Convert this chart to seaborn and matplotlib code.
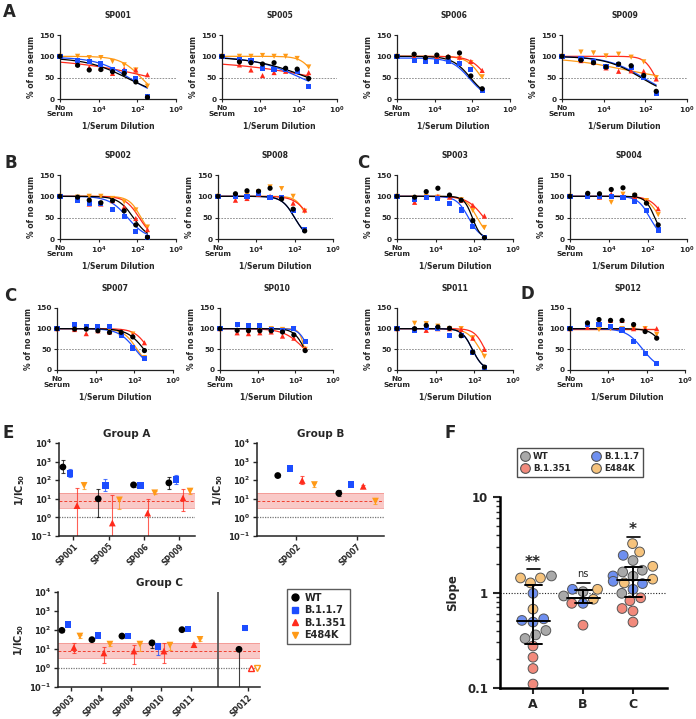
import numpy as np
import pandas as pd
import matplotlib
matplotlib.use('Agg')
import matplotlib.pyplot as plt
from matplotlib.lines import Line2D
from matplotlib.ticker import NullLocator, NullFormatter
import seaborn as sns

sns.set_theme(style='ticks')
plt.rcParams['font.family'] = ['DejaVu Sans']
plt.rcParams['font.weight'] = 'bold'
plt.rcParams['axes.labelweight'] = 'bold'
plt.rcParams['axes.titleweight'] = 'bold'
plt.rcParams['mathtext.default'] = 'bf'

# ---------------- data ----------------
variants = ['WT', 'B.1.1.7', 'B.1.351', 'E484K']

# serum dilution factors; the first point is the no-serum control (drawn at 10^6)
dilutions = [1e6, 122880, 30720, 7680, 1920, 480, 120, 30]

# % of no-serum signal per serum; fits are (top, bottom, log10 IC50 dilution, hill slope)
sp001 = {'WT': [100, 79, 68, 69, 64, 60, 40, 4], 'B.1.1.7': [100, 90, 88, 82, 68, 65, 47, 5],
         'B.1.351': [100, 82, 74, 72, 60, 70, 68, 57], 'E484K': [100, 100, 97, 97, 88, 80, 68, 30]}
sp001_fit = {'WT': (97, 0, 2.5, 0.4), 'B.1.1.7': (98, 0, 2.4, 0.5),
             'B.1.351': (95, 0, 1.0, 0.2), 'E484K': (100, 0, 1.8, 0.8)}

sp005 = {'WT': [100, 87, 85, 82, 85, 72, 70, 48], 'B.1.1.7': [100, 92, 90, 72, 70, 70, 65, 30],
         'B.1.351': [100, 80, 68, 55, 62, 65, 68, 62], 'E484K': [100, 100, 100, 102, 100, 100, 95, 75]}
sp005_fit = {'WT': (100, 0, 1.5, 0.3), 'B.1.1.7': (100, 0, 1.9, 0.35),
             'B.1.351': (90, 0, 0.5, 0.18), 'E484K': (100, 0, 1.1, 1.2)}

sp006 = {'WT': [100, 105, 97, 103, 98, 108, 54, 24], 'B.1.1.7': [100, 91, 89, 87, 87, 83, 70, 20],
         'B.1.351': [100, 100, 98, 99, 100, 98, 88, 67], 'E484K': [100, 98, 95, 95, 97, 95, 85, 52]}
sp006_fit = {'WT': (100, 0, 2.1, 0.9), 'B.1.1.7': (96, 0, 2.15, 0.9),
             'B.1.351': (100, 0, 1.2, 1.0), 'E484K': (100, 0, 1.5, 1.1)}

sp009 = {'WT': [100, 91, 85, 75, 82, 78, 55, 18], 'B.1.1.7': [100, 94, 88, 76, 80, 74, 50, 13],
         'B.1.351': [100, 90, 86, 73, 65, 66, 65, 47], 'E484K': [100, 110, 108, 101, 105, 98, 87, 50]}
sp009_fit = {'WT': (100, 0, 2.2, 0.5), 'B.1.1.7': (100, 0, 2.1, 0.5),
             'B.1.351': (100, 0, 1.5, 1.6), 'E484K': (98, 40, 3.0, 0.3)}

sp002 = {'WT': [100, 98, 91, 85, 90, 66, 33, 4], 'B.1.1.7': [100, 91, 84, 83, 70, 52, 17, 4],
         'B.1.351': [100, 97, 82, 82, 90, 75, 48, 22], 'E484K': [100, 98, 100, 100, 95, 87, 68, 28]}
sp002_fit = {'WT': (100, 0, 2.2, 1.1), 'B.1.1.7': (100, 0, 2.5, 0.9),
             'B.1.351': (100, 0, 1.9, 1.2), 'E484K': (100, 0, 1.8, 1.4)}

sp008 = {'WT': [100, 106, 113, 112, 119, 94, 70, 19], 'B.1.1.7': [100, 100, 100, 108, 98, 97, 66, 22],
         'B.1.351': [100, 91, 95, 105, 100, 97, 84, 68], 'E484K': [100, 100, 103, 110, 122, 118, 100, 65]}
sp008_fit = {'WT': (100, 0, 2.0, 1.3), 'B.1.1.7': (100, 0, 2.0, 1.3),
             'B.1.351': (100, 0, 1.2, 1.1), 'E484K': (100, 0, 1.35, 1.6)}

sp003 = {'WT': [100, 98, 111, 119, 103, 91, 43, 3], 'B.1.1.7': [100, 92, 98, 94, 84, 68, 29, 3],
         'B.1.351': [100, 86, 98, 100, 98, 91, 79, 54], 'E484K': [100, 97, 100, 98, 98, 92, 67, 27]}
sp003_fit = {'WT': (100, 0, 2.1, 2.0), 'B.1.1.7': (100, 0, 2.3, 1.4),
             'B.1.351': (100, 0, 1.5, 1.0), 'E484K': (100, 0, 1.85, 1.4)}

sp004 = {'WT': [100, 107, 106, 116, 120, 103, 84, 33], 'B.1.1.7': [100, 101, 100, 100, 98, 88, 67, 21],
         'B.1.351': [100, 103, 98, 105, 100, 100, 87, 71], 'E484K': [100, 103, 98, 86, 105, 102, 90, 57]}
sp004_fit = {'WT': (100, 0, 1.65, 1.8), 'B.1.1.7': (100, 0, 1.9, 1.4),
             'B.1.351': (100, 0, 1.15, 1.2), 'E484K': (100, 0, 1.38, 1.3)}

sp007 = {'WT': [100, 99, 99, 95, 91, 91, 80, 47], 'B.1.1.7': [100, 110, 105, 104, 105, 83, 53, 28],
         'B.1.351': [100, 98, 88, 95, 92, 90, 85, 66], 'E484K': [100, 100, 100, 98, 98, 88, 87, 30]}
sp007_fit = {'WT': (100, 0, 1.5, 1.0), 'B.1.1.7': (100, 0, 1.95, 1.0),
             'B.1.351': (100, 0, 1.25, 1.2), 'E484K': (100, 0, 1.85, 1.2)}

sp010 = {'WT': [100, 96, 95, 95, 95, 92, 85, 47], 'B.1.1.7': [100, 110, 108, 108, 98, 95, 100, 68],
         'B.1.351': [100, 90, 88, 90, 92, 82, 77, 52], 'E484K': [100, 92, 93, 98, 100, 98, 100, 50]}
sp010_fit = {'WT': (100, 0, 1.5, 1.5), 'B.1.1.7': (100, 0, 1.3, 1.8),
             'B.1.351': (100, 0, 1.5, 0.8), 'E484K': (100, 0, 1.5, 3.0)}

sp011 = {'WT': [100, 100, 108, 104, 101, 83, 43, 7], 'B.1.1.7': [100, 97, 103, 101, 83, 83, 42, 7],
         'B.1.351': [100, 100, 96, 100, 100, 98, 77, 50], 'E484K': [100, 113, 112, 106, 100, 100, 78, 33]}
sp011_fit = {'WT': (100, 0, 2.1, 1.6), 'B.1.1.7': (100, 0, 2.1, 1.6),
             'B.1.351': (100, 0, 1.45, 1.6), 'E484K': (100, 0, 1.7, 1.3)}

sp012 = {'WT': [100, 114, 122, 120, 120, 110, 93, 77], 'B.1.1.7': [100, 110, 110, 105, 97, 69, 40, 16],
         'B.1.351': [100, 103, 118, 120, 120, 100, 100, 100], 'E484K': [100, 105, 98, 100, 100, 100, 100, 86]}
sp012_fit = {'WT': (100, 0, 1.05, 1.3), 'B.1.1.7': (100, 0, 2.2, 1.0),
             'B.1.351': (100, 0, -3, 1.0), 'E484K': (100, 0, -3, 1.0)}

# 1/IC50 per serum (panel E): value, lower and upper error
sera_a = ['SP001', 'SP005', 'SP006', 'SP009']
ic_a = {'WT': [510, 10, 56, 72], 'B.1.1.7': [240, 52, 52, 105], 'B.1.351': [4.3, 0.5, 1.7, 11], 'E484K': [52, 8.7, 21, 26]}
ic_a_lo = {'WT': [230, 1.0, 45, 35], 'B.1.1.7': [140, 25, 45, 65], 'B.1.351': [0.01, 0.01, 0.01, 2.3], 'E484K': [35, 3, 18, 18]}
ic_a_hi = {'WT': [1200, 35, 68, 140], 'B.1.1.7': [400, 110, 62, 190], 'B.1.351': [38, 16, 10, 35], 'E484K': [80, 13, 25, 35]}

sera_b = ['SP002', 'SP007']
ic_b = {'WT': [178, 20], 'B.1.1.7': [410, 58], 'B.1.351': [96, 47], 'E484K': [58, 7.5]}
ic_b_lo = {'WT': [150, 14], 'B.1.1.7': [380, 50], 'B.1.351': [65, 40], 'E484K': [42, 5]}
ic_b_hi = {'WT': [210, 28], 'B.1.1.7': [440, 66], 'B.1.351': [160, 55], 'E484K': [75, 11]}

sera_c = ['SP003', 'SP004', 'SP008', 'SP010', 'SP011', 'SP012']
ic_c = {'WT': [96, 31, 48, 21, 104, 9.6], 'B.1.1.7': [190, 52, 48, 14, 112, 126],
        'B.1.351': [12, 6.2, 7.8, 7.8, 17, 1.0], 'E484K': [48, 18, 18, 16, 32, 1.0]}
ic_c_lo = {'WT': [80, 25, 40, 11, 95, 0.01], 'B.1.1.7': [175, 46, 44, 5, 104, 95],
           'B.1.351': [6, 1.8, 1.6, 1.9, 13, np.nan], 'E484K': [40, 15, 8, 9, 28, np.nan]}
ic_c_hi = {'WT': [110, 38, 56, 30, 112, 11], 'B.1.1.7': [205, 58, 52, 20, 120, 160],
           'B.1.351': [20, 13, 17, 20, 20, np.nan], 'E484K': [56, 21, 20, 20, 36, np.nan]}
below_limit_c = [('SP012', 'B.1.351'), ('SP012', 'E484K')]

# reference band for 1/IC50
band_lo, band_mid, band_hi = 3.2, 8.0, 20.0

# hill slopes (panel F)
slope_a = {'WT': [1.49, 0.40, 0.33, 0.36], 'B.1.1.7': [0.98, 0.49, 0.51, 0.53],
           'B.1.351': [0.275, 0.21, 0.16, 0.11], 'E484K': [1.42, 1.42, 1.26, 0.67]}
slope_b = {'WT': [1.02, 0.92], 'B.1.1.7': [1.08, 0.77], 'B.1.351': [0.77, 0.455], 'E484K': [1.08, 0.85]}
slope_c = {'WT': [2.16, 1.71, 1.64, 1.48, 0.98], 'B.1.1.7': [2.45, 1.49, 1.31, 1.24, 1.08],
           'B.1.351': [0.88, 0.82, 0.68, 0.64, 0.49], 'E484K': [3.25, 2.66, 1.88, 1.38, 1.26]}
slope_marks = {'A': '**', 'B': 'ns', 'C': '*'}

# ---------------- style ----------------
line_colors = {'WT': '#000000', 'B.1.1.7': '#1c4dff', 'B.1.351': '#ff2b1c', 'E484K': '#ff9a17'}
markers = {'WT': 'o', 'B.1.1.7': 's', 'B.1.351': '^', 'E484K': 'v'}
fill_colors = {'WT': '#a9a9a9', 'B.1.1.7': '#6e8ff0', 'B.1.351': '#f28a7c', 'E484K': '#f6c37c'}

W, H = 696, 719
fig = plt.figure(figsize=(W / 100, H / 100), dpi=100)


def box(x0, y0, x1, y1):
    return [x0 / W, 1 - y1 / H, (x1 - x0) / W, (y1 - y0) / H]


def draw_neut(title, vals, fits, px):
    ax = fig.add_axes(box(*px))
    xs = np.logspace(np.log10(dilutions[-1]), 6, 200)
    for v in variants[::-1]:
        top, bottom, lic, h = fits[v]
        curve = bottom + (top - bottom) / (1 + (10 ** lic / xs) ** h)
        sns.lineplot(x=xs, y=curve, color=line_colors[v], lw=0.9, ax=ax)
    rows = [(d, val, v) for v in variants[::-1] for d, val in zip(dilutions, vals[v])]
    df = pd.DataFrame(rows, columns=['dil', 'pct', 'variant'])
    sns.scatterplot(data=df, x='dil', y='pct', hue='variant', style='variant',
                    palette=line_colors, markers=markers, s=14, linewidth=0,
                    legend=False, ax=ax, zorder=3, clip_on=False)
    ax.axhline(50, color='#808080', lw=0.6, ls=(0, (2, 1.5)), zorder=1)
    ax.set_xscale('log')
    ax.set_xlim(1e6, 1)
    ax.set_ylim(0, 150)
    ax.set_xticks([1e6, 1e4, 1e2, 1])
    ax.set_xticklabels(['No\nSerum', r'$10^4$', r'$10^2$', r'$10^0$'])
    ax.xaxis.set_minor_locator(NullLocator())
    ax.set_yticks([0, 50, 100, 150])
    ax.tick_params(labelsize=5.3, length=2.5, width=0.8, pad=1.5)
    for lab in ax.get_xticklabels():
        lab.set_linespacing(1.1)
    ax.set_title(title, fontsize=5.5, pad=12)
    ax.set_xlabel('1/Serum Dilution', fontsize=5.5, labelpad=3)
    ax.set_ylabel('% of no serum', fontsize=5.5, labelpad=2)
    sns.despine(ax=ax)
    for s in ['left', 'bottom']:
        ax.spines[s].set_linewidth(0.9)
        ax.spines[s].set_color('#222222')


neut_panels = [
    ('SP001', sp001, sp001_fit, (60, 35, 176, 99)),
    ('SP005', sp005, sp005_fit, (222, 35, 337, 99)),
    ('SP006', sp006, sp006_fit, (397, 35, 510, 99)),
    ('SP009', sp009, sp009_fit, (562, 35, 687, 99)),
    ('SP002', sp002, sp002_fit, (60, 175, 176, 239)),
    ('SP008', sp008, sp008_fit, (218, 175, 333, 239)),
    ('SP003', sp003, sp003_fit, (397, 175, 513, 239)),
    ('SP004', sp004, sp004_fit, (570, 175, 687, 239)),
    ('SP007', sp007, sp007_fit, (57, 308, 173, 370)),
    ('SP010', sp010, sp010_fit, (220, 308, 333, 370)),
    ('SP011', sp011, sp011_fit, (397, 308, 513, 370)),
    ('SP012', sp012, sp012_fit, (570, 308, 685, 370)),
]
for title, vals, fits, px in neut_panels:
    draw_neut(title, vals, fits, px)

# ---------------- panel E ----------------
offsets = [-0.3, -0.1, 0.1, 0.3]


def draw_ic(px, title, sera, pos, vals, lo, hi, xlim, hollow=(), sep=None):
    ax = fig.add_axes(box(*px))
    ax.set_yscale('log')
    ax.axhspan(band_lo, band_hi, color='#f7b3b0', alpha=0.7, lw=0, zorder=0)
    for yb in (band_lo, band_hi):
        ax.axhline(yb, color='#f28a84', lw=0.5, zorder=0.5)
    ax.axhline(band_mid, color='#f0402f', lw=0.7, ls=(0, (3, 2)), zorder=0.6)
    ax.axhline(1, color='#777777', lw=0.9, ls=(0, (1, 1)), zorder=0.6)
    rows = []
    for j, v in enumerate(variants):
        for k, s in enumerate(sera):
            x = pos[k] + offsets[j]
            val, l, h = vals[v][k], lo[v][k], hi[v][k]
            if not np.isnan(l):
                ax.errorbar([x], [val], yerr=[[val - l], [h - val]], fmt='none',
                            ecolor=line_colors[v], alpha=0.75, elinewidth=0.8,
                            capsize=1.5, capthick=0.8, zorder=2)
            if (s, v) in hollow:
                ax.plot([x], [val], marker=markers[v], ms=5, mfc='white',
                        mec=line_colors[v], mew=1.0, ls='none', zorder=3)
            else:
                rows.append((x, val, v))
    df = pd.DataFrame(rows, columns=['x', 'val', 'variant'])
    sns.scatterplot(data=df, x='x', y='val', hue='variant', style='variant',
                    palette=line_colors, markers=markers, s=24, linewidth=0,
                    legend=False, ax=ax, zorder=3)
    if sep is not None:
        ax.axvline(sep, color='#555555', lw=1.3, zorder=1)
    ax.set_xlim(*xlim)
    ax.set_ylim(0.1, 1e4)
    ax.set_yticks([1e-1, 1, 10, 100, 1e3, 1e4])
    ax.set_yticklabels([r'$10^{-1}$', r'$10^0$', r'$10^1$', r'$10^2$', r'$10^3$', r'$10^4$'])
    ax.yaxis.set_minor_locator(NullLocator())
    ax.set_xticks(pos)
    ax.set_xticklabels(sera, rotation=45, ha='right', rotation_mode='anchor')
    ax.tick_params(axis='y', labelsize=6, length=3, width=1, pad=2)
    ax.tick_params(axis='x', labelsize=5.5, length=3, width=1, pad=1)
    ax.set_xlabel('')
    ax.set_ylabel(r'1/IC$_{50}$', fontsize=7, labelpad=2)
    ax.set_title(title, fontsize=7.5, pad=4)
    sns.despine(ax=ax)
    for s in ['left', 'bottom']:
        ax.spines[s].set_linewidth(1.1)
        ax.spines[s].set_color('#222222')
    return ax


draw_ic((59, 443, 195, 536), 'Group A', sera_a, [0, 1, 2, 3], ic_a, ic_a_lo, ic_a_hi, (-0.41, 3.44))
draw_ic((257, 443, 384, 536), 'Group B', sera_b, [0, 1], ic_b, ic_b_lo, ic_b_hi, (-0.64, 1.44))
draw_ic((58, 592, 260, 687), 'Group C', sera_c, [0, 1, 2, 3, 4, 5.9], ic_c, ic_c_lo, ic_c_hi,
        (-0.43, 6.3), hollow=below_limit_c, sep=4.9)

handles_e = [Line2D([], [], marker=markers[v], color=line_colors[v], ls='none', ms=5) for v in variants]
fig.legend(handles_e, variants, loc='upper left', bbox_to_anchor=(287 / W, 1 - 589 / H),
           frameon=True, fancybox=False, edgecolor='#333333', fontsize=7, handlelength=0.8,
           handletextpad=0.6, labelspacing=0.25, borderpad=0.4, borderaxespad=0)

# ---------------- panel F ----------------
rows = []
for g, d in zip(['A', 'B', 'C'], [slope_a, slope_b, slope_c]):
    for v in variants:
        for val in d[v]:
            rows.append((g, v, val))
dff = pd.DataFrame(rows, columns=['group', 'variant', 'slope'])

axf = fig.add_axes(box(500, 497, 667, 688))
sns.swarmplot(data=dff, x='group', y='slope', hue='variant', hue_order=variants, order=['A', 'B', 'C'],
              palette=fill_colors, size=7, edgecolor='#555555', linewidth=0.7,
              log_scale=True, legend=False, ax=axf, zorder=3)
axf.axhline(1, color='#222222', lw=0.8, ls=(0, (1, 1.5)), zorder=1)
mark_y = {'A': (1.75, 2.06), 'B': (1.27, 1.58), 'C': (3.8, 4.55)}
for i, g in enumerate(['A', 'B', 'C']):
    vals = dff.loc[dff['group'] == g, 'slope'].values
    med = np.median(vals)
    q1, q3 = np.percentile(vals, [25, 75], method='weibull')
    axf.plot([i - 0.33, i + 0.33], [med, med], color='black', lw=1.4, zorder=4)
    axf.plot([i, i], [q1, q3], color='black', lw=1.4, zorder=4)
    for q in (q1, q3):
        axf.plot([i - 0.17, i + 0.17], [q, q], color='black', lw=1.4, zorder=4)
    ly, ty = mark_y[g]
    axf.plot([i - 0.13, i + 0.13], [ly, ly], color='black', lw=1.2)
    if slope_marks[g] == 'ns':
        axf.text(i, ty, 'ns', ha='center', va='center', fontsize=7, fontweight='normal')
    else:
        axf.text(i, ty, slope_marks[g], ha='center', va='center', fontsize=11)
axf.set_xlim(-0.66, 2.68)
axf.set_ylim(0.1, 10)
axf.set_yticks([0.1, 1, 10])
axf.set_yticklabels(['0.1', '1', '10'])
axf.yaxis.set_minor_formatter(NullFormatter())
axf.tick_params(axis='y', which='major', labelsize=8.5, length=5, width=1.5)
axf.tick_params(axis='y', which='minor', length=3, width=1.0)
axf.tick_params(axis='x', labelsize=9, length=4, width=1.5)
axf.set_xlabel('')
axf.set_ylabel('Slope', fontsize=8.5, labelpad=6)
sns.despine(ax=axf)
for s in ['left', 'bottom']:
    axf.spines[s].set_linewidth(1.8)
    axf.spines[s].set_color('black')

handles_f = [Line2D([], [], marker='o', color='none', mfc=fill_colors[v], mec='#555555', mew=0.8, ms=7)
             for v in ['WT', 'B.1.351', 'B.1.1.7', 'E484K']]
fig.legend(handles_f, ['WT', 'B.1.351', 'B.1.1.7', 'E484K'], ncol=2, loc='upper left',
           bbox_to_anchor=(517 / W, 1 - 448 / H), frameon=True, fancybox=False, edgecolor='#222222',
           fontsize=6.3, handlelength=0.9, handletextpad=0.5, columnspacing=2.4,
           labelspacing=0.35, borderpad=0.45, borderaxespad=0)

# ---------------- panel letters ----------------
for letter, x, y in [('A', 3, 3), ('B', 4, 154), ('C', 357, 154), ('C', 4, 287), ('D', 520, 285),
                     ('E', 3, 424), ('F', 444, 424)]:
    fig.text(x / W, 1 - y / H, letter, fontsize=12, fontweight='bold', ha='left', va='top')

fig.savefig('out.png', dpi=100)
